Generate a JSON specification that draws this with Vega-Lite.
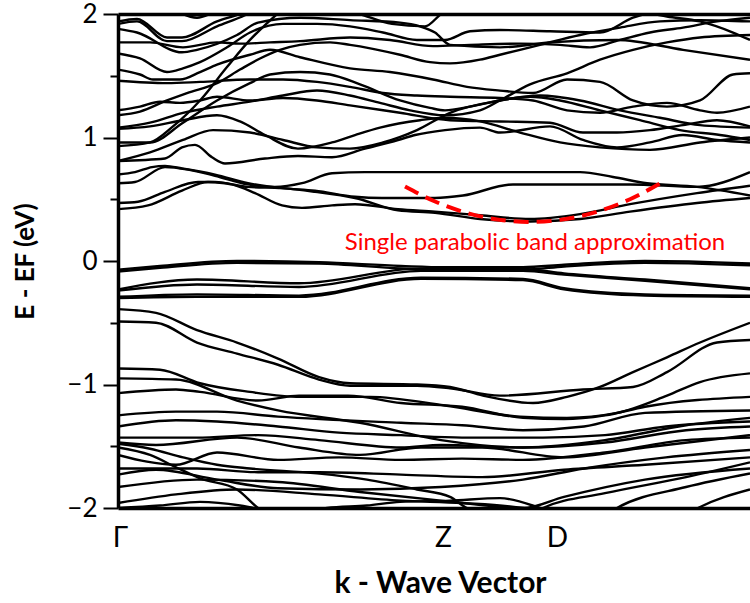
{
"$schema": "https://vega.github.io/schema/vega-lite/v6.json",
"width": 632, "height": 494,
"autosize": {"type": "none"},
"padding": {"left": 118, "top": 14, "right": 0, "bottom": 95},
"background": "white",
"config": {"view": {"stroke": null}},
"encoding": {
 "x": {"field": "k", "type": "quantitative", "scale": {"domain": [0, 632], "nice": false, "zero": false},
  "axis": {"title": "k - Wave Vector", "values": [2, 325, 439], "labelExpr": "datum.value < 100 ? 'Γ' : (datum.value < 400 ? 'Z' : 'D')", "ticks": false, "grid": false, "labelFlush": false, "labelOverlap": false, "labelPadding": 16, "labelFont": "Lato", "labelFontSize": 28, "labelColor": "black", "domainColor": "black", "domainWidth": 3.5, "titleFont": "Lato", "titleFontSize": 30, "titleFontWeight": "bold", "titleColor": "black", "titleX": 322, "titleY": 84, "titleBaseline": "alphabetic"}},
 "y": {"field": "E", "type": "quantitative", "scale": {"domain": [-2, 2], "nice": false, "zero": false},
  "axis": {"title": "E - EF (eV)", "values": [-2, -1.5, -1, -0.5, 0, 0.5, 1, 1.5, 2], "labelExpr": "abs(datum.value % 1) < 0.01 ? (datum.value < 0 ? '−' + abs(datum.value) : '' + datum.value) : ''", "tickSize": {"condition": {"test": "abs(datum.value % 1) < 0.01", "value": 15}, "value": 8}, "tickWidth": 2, "tickColor": "black", "labelPadding": 6, "labelFont": "Lato", "labelFontSize": 26, "labelColor": "black", "labelOverlap": false, "labelFlush": false, "domainColor": "black", "domainWidth": 3.5, "grid": true, "gridColor": {"condition": {"test": "datum.value === 2", "value": "black"}, "value": "transparent"}, "gridWidth": 3.5, "titleFont": "Lato", "titleFontSize": 26, "titleFontWeight": "bold", "titleColor": "black", "titleX": -80, "titleY": 247, "titleAngle": -90, "titleBaseline": "bottom", "titleAlign": "center"}}
},
"layer": [
 {
  "data": {"values": [
   {"b": "U01", "k": [0,19,49,64,99,122,137], "E": [1.94,1.96,1.81,1.81,1.94,2.00,2.05]},
   {"b": "U02", "k": [0,19,49,64,99,127,142], "E": [1.92,1.94,1.78,1.78,1.90,1.99,2.05]},
   {"b": "U03", "k": [0,19,64,79,119,140,182,232,282,302,317,332,382,432,499,565,632], "E": [1.88,1.85,1.69,1.71,1.83,1.93,1.97,1.95,1.93,1.90,1.85,1.75,1.73,1.77,1.79,1.71,1.63]},
   {"b": "U04", "k": [0,32,65,99,122,152,182,232,272,315,352,402,442,472,502,532,565,599,632], "E": [1.77,1.77,1.73,1.77,1.76,1.77,1.78,1.81,1.79,1.74,1.75,1.76,1.75,1.73,1.79,1.85,1.89,1.94,1.97]},
   {"b": "U05", "k": [0,22,49,65,82,109,132,165,199,232,265,299,327,352,382,432,482,515,542], "E": [1.68,1.64,1.53,1.56,1.61,1.73,1.85,1.92,1.92,1.90,1.85,1.79,1.79,1.86,1.87,1.86,1.85,1.97,2.03]},
   {"b": "U06", "k": [0,22,35,62,82,99,132,152,182,232,272,315,349,382,415,449,482,515,549,582,615,632], "E": [1.55,1.51,1.47,1.47,1.53,1.59,1.67,1.71,1.65,1.56,1.53,1.47,1.41,1.38,1.36,1.47,1.45,1.30,1.25,1.30,1.51,1.52]},
   {"b": "U07", "k": [0,49,82,132,165,199,232,265,299,332,382,415,449,482,515,549,582,599,632], "E": [1.46,1.44,1.45,1.47,1.47,1.45,1.41,1.36,1.34,1.33,1.32,1.30,1.22,1.20,1.25,1.28,1.22,1.20,1.25]},
   {"b": "U08", "k": [0,22,42,62,82,99,132,165,199,232,282,332,382,432,465,499,532,565,599,632], "E": [1.22,1.25,1.29,1.28,1.30,1.33,1.30,1.32,1.30,1.26,1.20,1.14,1.13,1.12,1.04,1.04,1.06,1.10,1.14,1.09]},
   {"b": "U09", "k": [0,22,49,69,99,122,142,162,182,212,232,282,312,332,362,382,422,462,502,542,582,632], "E": [1.18,1.21,1.30,1.36,1.44,1.55,1.64,1.71,1.75,1.77,1.75,1.67,1.61,1.60,1.63,1.67,1.75,1.83,1.89,1.94,1.95,1.94]},
   {"b": "U10", "k": [0,32,65,99,132,165,199,232,262,292,327,362,382,412,449,482,515,549,582,632], "E": [1.08,1.12,1.20,1.25,1.29,1.34,1.38,1.34,1.28,1.22,1.18,1.22,1.30,1.43,1.52,1.63,1.71,1.77,1.81,1.83]},
   {"b": "U11", "k": [0,32,65,99,132,152,182,212,242,282,312,327,352,382,412,442,482,522,562,602,632], "E": [0.96,0.96,1.12,1.30,1.44,1.51,1.53,1.51,1.43,1.30,1.24,1.22,1.25,1.30,1.33,1.30,1.22,1.14,1.06,1.02,0.98]},
   {"b": "U12", "k": [0,32,55,82,109,132,147,162], "E": [0.93,0.96,1.09,1.30,1.57,1.79,1.91,2.02]},
   {"b": "U13", "k": [0,32,65,95,132,165,199,232,265,299,332,382,422,462,502,542,582,632], "E": [0.81,0.88,0.98,1.06,1.04,0.98,0.92,0.91,0.96,1.06,1.20,1.30,1.34,1.30,1.22,1.16,1.10,1.08]},
   {"b": "U14", "k": [0,47,64,77,94,107,147,180,214,247,280,297,327,362,382,432,465,499,532,565,599,632], "E": [0.81,0.83,0.92,0.94,0.84,0.79,0.83,0.85,0.84,0.91,0.98,1.02,1.06,1.08,1.04,1.09,0.98,0.92,0.96,1.02,0.98,0.96]},
   {"b": "U16", "k": [0,32,65,99,122,147,180,214,237,262,302,327,362,402,442,482,532,582,632], "E": [1.07,1.09,1.14,1.18,1.13,1.02,0.91,0.96,1.02,1.08,1.14,1.16,1.13,1.04,0.96,0.92,0.90,0.96,1.00]},
   {"b": "U17", "k": [222,242,274,307,323,332], "E": [2.05,2.00,1.92,1.90,2.00,2.05]},
   {"b": "U18", "k": [502,522,549,582,615,632], "E": [2.05,2.02,1.98,1.94,1.85,1.79]},
   {"b": "U19", "k": [52,62,79,95,107], "E": [2.05,2.01,1.97,2.01,2.05]},
   {"b": "C", "k": [0,17,34,47,64,97,130,164,197,237,264,317,345,395,442,512,579,632], "E": [0.70,0.72,0.76,0.77,0.75,0.70,0.63,0.59,0.57,0.52,0.51,0.51,0.53,0.62,0.62,0.62,0.60,0.72]},
   {"b": "D", "k": [0,17,47,70,97,130,157,184,214,247,317,462,495,529,579,632], "E": [0.63,0.64,0.76,0.74,0.69,0.62,0.60,0.63,0.71,0.72,0.72,0.72,0.68,0.63,0.60,0.53]},
   {"b": "F", "k": [0,20,47,80,97,114,137,164,184,214,237,280,317,362,412,462,512,579,632], "E": [0.47,0.48,0.56,0.64,0.64,0.62,0.55,0.45,0.43,0.45,0.46,0.42,0.40,0.37,0.34,0.38,0.46,0.55,0.61]},
   {"b": "G", "k": [0,30,64,90,107,130,164,197,237,280,317,362,412,462,512,579,632], "E": [0.42,0.45,0.57,0.64,0.63,0.60,0.59,0.56,0.51,0.41,0.39,0.34,0.32,0.34,0.40,0.47,0.51]},
   {"b": "Va", "k": [0,42,119,201,283,327,405,446,527,632], "E": [-0.07,-0.04,0.00,-0.01,-0.04,-0.05,-0.05,-0.03,0.00,-0.02]},
   {"b": "Vb", "k": [0,42,119,201,283,327,405,446,527,632], "E": [-0.085,-0.055,-0.015,-0.02,-0.06,-0.07,-0.07,-0.045,-0.015,-0.035]},
   {"b": "Vc", "k": [0,79,181,303,405,446,527,632], "E": [-0.23,-0.15,-0.18,-0.06,-0.065,-0.10,-0.15,-0.22]},
   {"b": "Vd", "k": [0,79,181,303,405,446,527,632], "E": [-0.24,-0.19,-0.21,-0.08,-0.08,-0.11,-0.16,-0.23]},
   {"b": "Ve", "k": [0,79,181,303,405,446,527,632], "E": [-0.29,-0.27,-0.28,-0.135,-0.145,-0.22,-0.27,-0.28]},
   {"b": "Vf", "k": [0,79,181,303,405,446,527,632], "E": [-0.30,-0.29,-0.29,-0.145,-0.155,-0.23,-0.28,-0.29]},
   {"b": "H1", "k": [0,38,79,119,160,201,232,299,332,365,415,449,482,515,549,582,632], "E": [-0.39,-0.42,-0.56,-0.66,-0.79,-0.94,-0.99,-1.00,-1.02,-1.09,-1.15,-1.10,-1.02,-0.90,-0.78,-0.66,-0.50]},
   {"b": "H2", "k": [0,38,79,119,160,201,232,299,332,382,465,515,549,599,632], "E": [-0.49,-0.50,-0.66,-0.75,-0.84,-0.96,-1.01,-1.01,-1.03,-1.09,-1.04,-1.02,-0.90,-0.66,-0.64]},
   {"b": "M0a", "k": [0,42,82,132,182,252,327,402,449,499,549,582,632], "E": [-0.87,-0.88,-0.99,-1.06,-1.10,-1.10,-1.17,-1.26,-1.27,-1.23,-1.09,-0.98,-0.91]},
   {"b": "M0b", "k": [0,58,119,160,242,323,405,487,568,632], "E": [-0.95,-0.96,-1.13,-1.21,-1.31,-1.45,-1.51,-1.45,-1.33,-1.27]},
   {"b": "M1", "k": [0,58,82,140,181,230,283,344,405,446,487,527,632], "E": [-1.07,-1.04,-1.06,-1.13,-1.09,-1.09,-1.15,-1.18,-1.27,-1.28,-1.25,-1.18,-1.10]},
   {"b": "M2", "k": [0,58,99,160,283,344,405,466,527,632], "E": [-1.25,-1.22,-1.22,-1.26,-1.31,-1.33,-1.37,-1.34,-1.23,-1.21]},
   {"b": "M3", "k": [0,58,99,160,221,283,344,425,487,548,632], "E": [-1.34,-1.29,-1.30,-1.34,-1.39,-1.41,-1.43,-1.43,-1.41,-1.34,-1.30]},
   {"b": "M4", "k": [0,79,140,201,283,323,405,487,568,632], "E": [-1.43,-1.43,-1.41,-1.45,-1.51,-1.49,-1.51,-1.47,-1.37,-1.34]},
   {"b": "M5", "k": [0,38,119,181,242,303,364,446,527,632], "E": [-1.47,-1.49,-1.43,-1.51,-1.57,-1.51,-1.51,-1.59,-1.51,-1.41]},
   {"b": "M6", "k": [0,58,99,160,221,283,344,405,487,568,632], "E": [-1.57,-1.65,-1.55,-1.61,-1.59,-1.61,-1.60,-1.61,-1.55,-1.45,-1.43]},
   {"b": "M7", "k": [0,79,140,201,283,364,446,527,632], "E": [-1.68,-1.68,-1.71,-1.71,-1.73,-1.75,-1.69,-1.65,-1.59]},
   {"b": "M8", "k": [0,38,99,160,242,323,405,466,548,632], "E": [-1.73,-1.69,-1.77,-1.84,-1.85,-1.83,-1.77,-1.68,-1.59,-1.53]},
   {"b": "M9", "k": [0,79,160,242,323,405,446,527,632], "E": [-1.83,-1.77,-1.79,-1.87,-1.94,-2.00,-1.91,-1.77,-1.68]},
   {"b": "M10", "k": [0,58,119,201,283,344,405,442], "E": [-1.96,-1.89,-1.85,-1.89,-1.94,-1.96,-2.00,-2.06]},
   {"b": "M11", "k": [0,42,82,122,152], "E": [-2.00,-1.98,-1.95,-1.98,-2.03]},
   {"b": "X1", "k": [0,32,58,82,119,140,162], "E": [-1.51,-1.57,-1.67,-1.76,-1.85,-2.00,-2.10]},
   {"b": "X2", "k": [0,32,65,99,132,199,249,299,332,349,362], "E": [-1.48,-1.52,-1.59,-1.65,-1.68,-1.72,-1.77,-1.85,-1.91,-2.00,-2.03]},
   {"b": "X3", "k": [182,209,249,282,332,382,422,442], "E": [-2.06,-2.00,-1.98,-1.95,-1.94,-1.92,-2.00,-2.06]},
   {"b": "R1", "k": [412,425,487,568,632], "E": [-2.06,-2.00,-1.88,-1.75,-1.63]},
   {"b": "R2", "k": [487,499,568,632], "E": [-2.06,-2.00,-1.83,-1.72]},
   {"b": "R3", "k": [567,580,632], "E": [-2.06,-2.00,-1.85]}
  ]},
  "transform": [{"flatten": ["k", "E"]}],
  "mark": {"type": "line", "color": "black", "strokeWidth": 2.4, "clip": true, "interpolate": "monotone"},
  "encoding": {"detail": {"field": "b"}}
 },
 {
  "data": {"values": [
   {"k": 287, "E": 0.603}, {"k": 317, "E": 0.482}, {"k": 347, "E": 0.394}, {"k": 382, "E": 0.333}, {"k": 412, "E": 0.316},
   {"k": 442, "E": 0.333}, {"k": 477, "E": 0.394}, {"k": 512, "E": 0.5}, {"k": 542, "E": 0.627}
  ]},
  "mark": {"type": "line", "color": "#ff0000", "strokeWidth": 4, "strokeDash": [15, 8], "interpolate": "monotone"}
 },
 {
  "data": {"values": [{"k": 417, "E": 0.09, "t": "Single parabolic band approximation"}]},
  "mark": {"type": "text", "color": "#ff0000", "font": "Lato", "fontSize": 24, "baseline": "alphabetic", "align": "center"},
  "encoding": {"text": {"field": "t"}}
 }
]
}
